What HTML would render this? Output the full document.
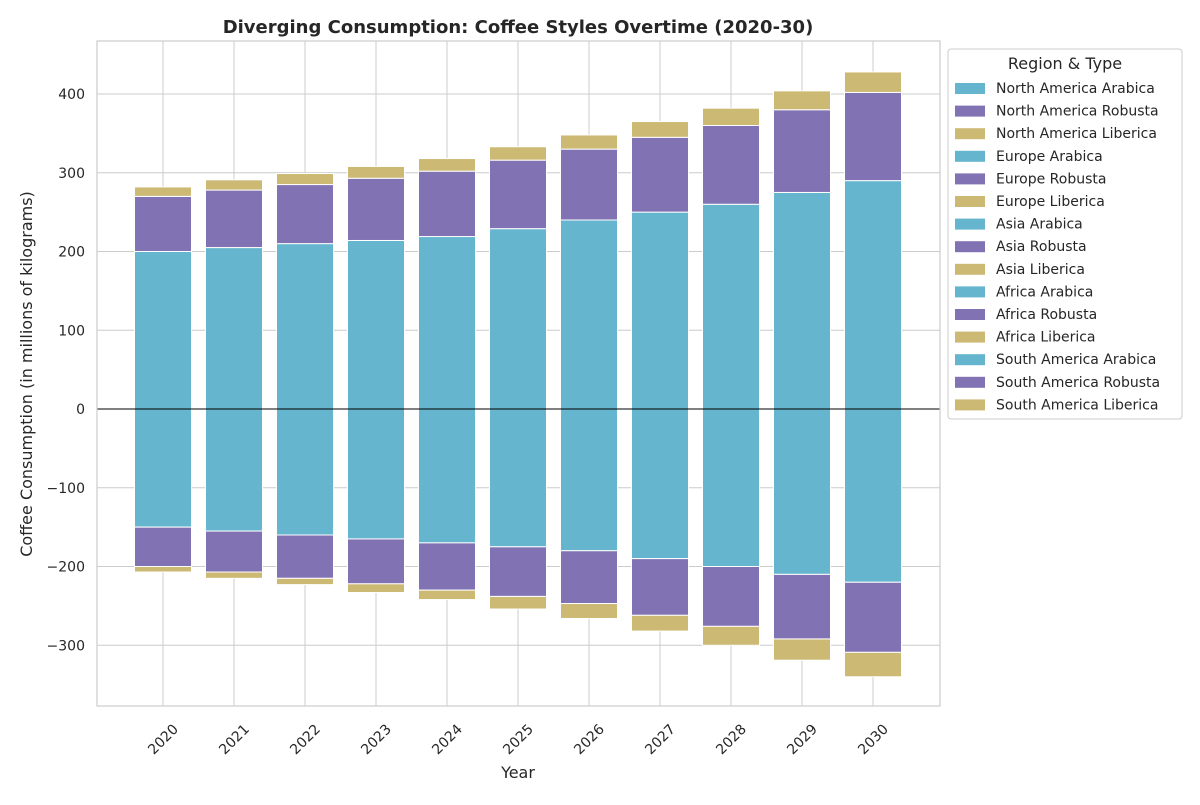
<!DOCTYPE html>
<html><head><meta charset="utf-8"><style>
body{margin:0;background:#fff;font-family:"Liberation Sans","DejaVu Sans",sans-serif;}
svg text{font-family:"DejaVu Sans","Liberation Sans",sans-serif;fill:#262626;}
</style></head><body>
<svg id="c" width="1200" height="800" xmlns="http://www.w3.org/2000/svg"></svg>
<script>
const years=[2020,2021,2022,2023,2024,2025,2026,2027,2028,2029,2030];
const posArabica=[200,205,210,214,219,229,240,250,260,275,290];
const posRobusta=[70,73,75,79,83,87,90,95,100,105,112];
const posLiberica=[12,13,14,15,16,17,18,20,22,24,26];
const negArabica=[150,155,160,165,170,175,180,190,200,210,220];
const negRobusta=[50,52,55,57,60,63,67,72,76,82,89];
const negLiberica=[7,8,8,11,12,16,19,20,24,27,31];
const yTicks=[-300,-200,-100,0,100,200,300,400];
const legendLabels=["North America Arabica","North America Robusta","North America Liberica","Europe Arabica","Europe Robusta","Europe Liberica","Asia Arabica","Asia Robusta","Asia Liberica","Africa Arabica","Africa Robusta","Africa Liberica","South America Arabica","South America Robusta","South America Liberica"];
const colors=["#64b5cd","#8172b3","#ccb974"];
const NS="http://www.w3.org/2000/svg";
const svg=document.getElementById('c');
const L=97,R=940,T=41,B=706;
const y=v=>409-v*0.7875;
const x=i=>163+i*71;
function el(t,a,p){const e=document.createElementNS(NS,t);for(const k in a)e.setAttribute(k,a[k]);(p||svg).appendChild(e);return e;}
yTicks.forEach(v=>{
 const g=el('line',{x1:L,x2:R,y1:y(v),y2:y(v),stroke:'#cccccc','stroke-width':1});
 
 
 const t=el('text',{x:L-12,y:y(v)+5,'text-anchor':'end','font-size':14});
 t.textContent=(v<0?'\u2212'+(-v):v);
 
 
});
years.forEach((yr,i)=>{
 const g=el('line',{x1:x(i),x2:x(i),y1:T,y2:B,stroke:'#cccccc','stroke-width':1});
 
 
 const t=el('text',{x:0,y:0,'text-anchor':'end','font-size':14,transform:`translate(${x(i)+16},${B+24}) rotate(-45)`});
 t.textContent=yr;
 
 
});
const bw=57;
function bar(i,v0,v1,c,name){
 const r=el('rect',{x:x(i)-bw/2,y:Math.min(y(v0),y(v1)),width:bw,height:Math.abs(y(v1)-y(v0)),fill:c,stroke:'#fff','stroke-width':1});
 
 
}
years.forEach((yr,i)=>{
 let a=posArabica[i],b=a+posRobusta[i],c=b+posLiberica[i];
 bar(i,0,a,colors[0],'bar-arabica-pos');bar(i,a,b,colors[1],'bar-robusta-pos');bar(i,b,c,colors[2],'bar-liberica-pos');
 a=-negArabica[i];b=a-negRobusta[i];c=b-negLiberica[i];
 bar(i,0,a,colors[0],'bar-arabica-neg');bar(i,a,b,colors[1],'bar-robusta-neg');bar(i,b,c,colors[2],'bar-liberica-neg');
});
const z=el('line',{x1:L,x2:R,y1:y(0),y2:y(0),stroke:'#000','stroke-width':1});

const fr=el('rect',{x:L,y:T,width:R-L,height:B-T,fill:'none',stroke:'#cccccc','stroke-width':1.2});

let t=el('text',{x:518,y:33,'text-anchor':'middle','font-size':18,'font-weight':'bold'});t.textContent='Diverging Consumption: Coffee Styles Overtime (2020-30)';

t=el('text',{x:518,y:778,'text-anchor':'middle','font-size':16});t.textContent='Year';

t=el('text',{x:0,y:0,'text-anchor':'middle','font-size':16,transform:'translate(32,374) rotate(-90)'});t.textContent='Coffee Consumption (in millions of kilograms)';

const lg=el('rect',{x:948,y:49,width:234,height:370,rx:3,fill:'#fff',stroke:'#cccccc'});

t=el('text',{x:1065,y:69,'text-anchor':'middle','font-size':16});t.textContent='Region & Type';

legendLabels.forEach((lab,k)=>{
 const yy=88+k*22.6;
 const p=el('rect',{x:955,y:yy-5,width:30,height:11,fill:colors[k%3]});
 
 const tx=el('text',{x:996,y:yy+5,'font-size':14});tx.textContent=lab;
 
});
</script>
</body></html>
